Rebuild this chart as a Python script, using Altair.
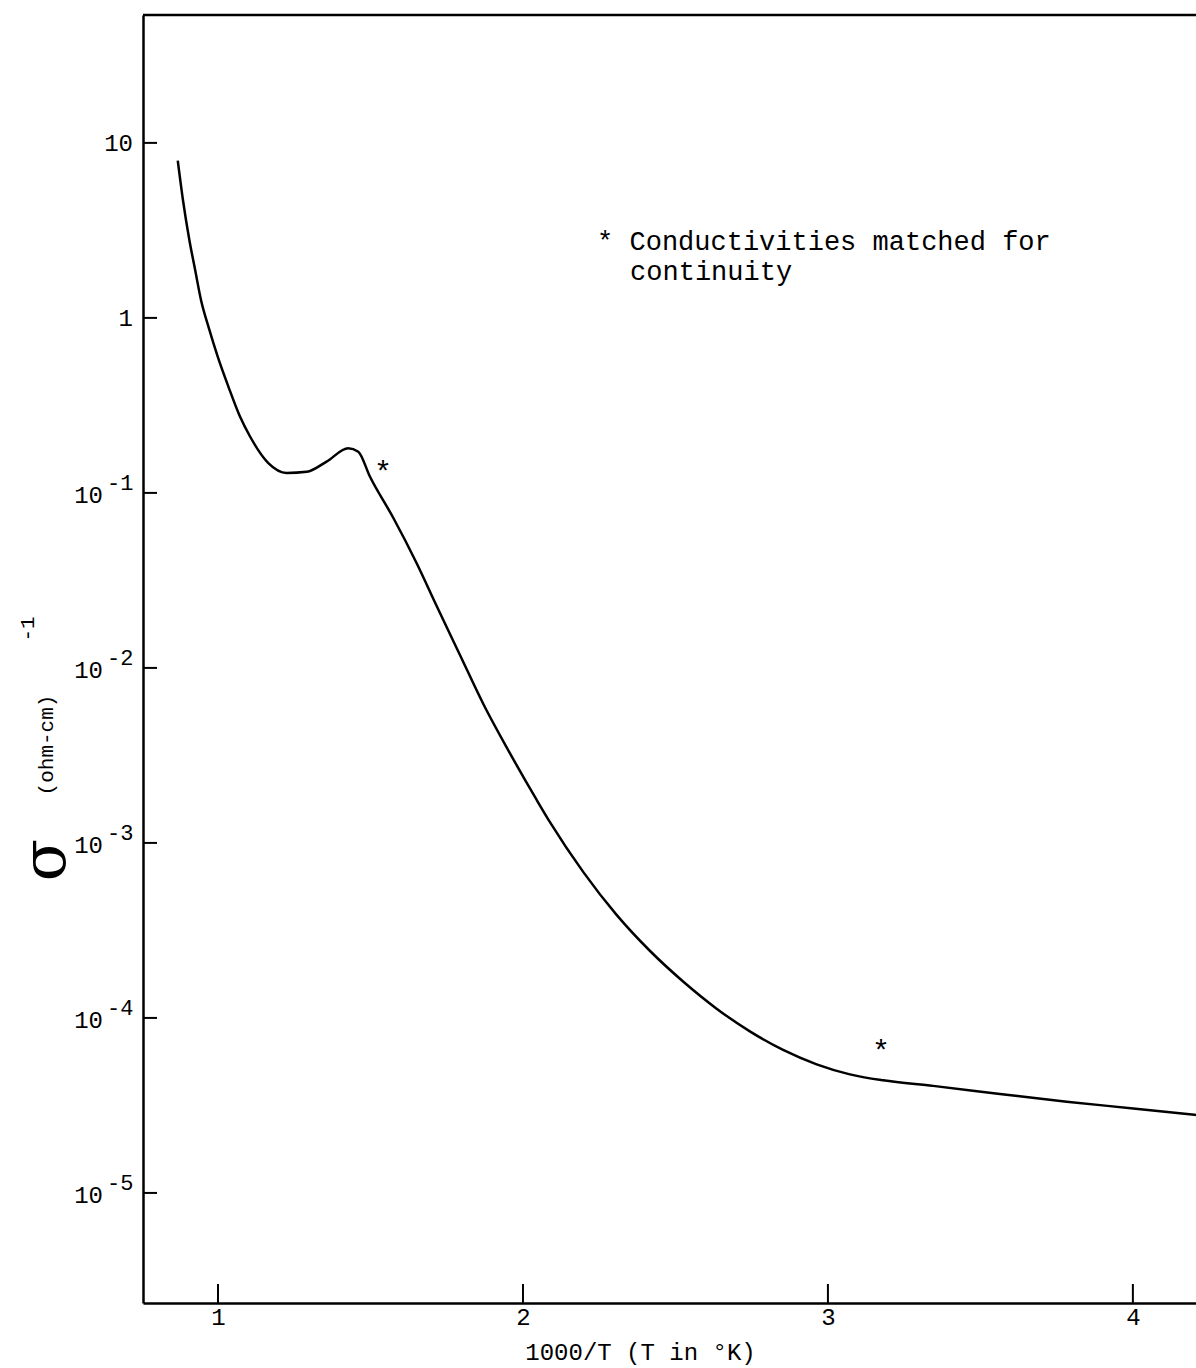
import altair as alt
import pandas as pd

# ---- data ----
inv_T = [0.868, 0.885, 0.906, 0.925, 0.944, 0.970, 0.999, 1.034, 1.072, 1.105,
         1.165, 1.225, 1.291, 1.356, 1.427, 1.460, 1.498, 1.575, 1.651, 1.717,
         1.793, 1.870, 1.957, 2.045, 2.089, 2.198, 2.307, 2.416, 2.526, 2.635,
         2.744, 2.853, 2.963, 3.072, 3.181, 3.345, 3.564, 3.783, 4.001, 4.207]
sigma = [7.92, 4.72, 2.79, 1.88, 1.27, 0.873, 0.601, 0.405, 0.273, 0.210,
         0.148, 0.130, 0.132, 0.151, 0.180, 0.172, 0.124, 0.0719, 0.0398, 0.0226,
         0.0119, 0.00622, 0.00326, 0.00176, 0.00131, 0.000681, 0.000388, 0.000242, 0.000161, 0.000113,
         8.38e-5, 6.56e-5, 5.43e-5, 4.76e-5, 4.40e-5, 4.09e-5, 3.68e-5, 3.32e-5, 3.04e-5, 2.79e-5]

star_x = [1.541, 3.174]
star_y = [0.1426, 7.01e-5]

note_line1 = "* Conductivities matched for"
note_line2 = "continuity"
note_x = 2.243
note_y1 = 2.72
note_y2 = 1.83

x_ticks = [1, 2, 3, 4]
y_ticks = [10, 1, 0.1, 0.01, 0.001, 0.0001, 0.00001]
y_base = ["10", "1", "10", "10", "10", "10", "10"]
y_exp = ["", "", "-1", "-2", "-3", "-4", "-5"]

X_DOMAIN = [0.754, 4.207]
Y_DOMAIN = [2.35e-6, 53.8]
W, H = 1053, 1288
FONT = "Liberation Mono"

curve_df = pd.DataFrame({"x": inv_T, "y": sigma})
star_df = pd.DataFrame({"x": star_x, "y": star_y})
note1_df = pd.DataFrame({"x": [note_x], "y": [note_y1], "t": [note_line1]})
note2_df = pd.DataFrame({"x": [note_x], "y": [note_y2], "t": [note_line2]})
xt_df = pd.DataFrame({"x": x_ticks})
yt_df = pd.DataFrame({"y": y_ticks, "base": y_base, "exp": y_exp})
one_df = pd.DataFrame({"k": [0]})

xs = alt.Scale(domain=X_DOMAIN, nice=False, zero=False)
ys = alt.Scale(type="log", domain=Y_DOMAIN, nice=False)

x_axis = alt.Axis(values=x_ticks, format="d", ticks=False, grid=False,
                  domainColor="black", domainWidth=2.5,
                  labelFont=FONT, labelFontSize=24, labelColor="black", labelPadding=2,
                  title="1000/T (T in °K)", titleFont=FONT, titleFontSize=24,
                  titleFontWeight="normal", titleColor="black",
                  titleX=497, titleY=56, titleBaseline="alphabetic")
y_axis = alt.Axis(labels=False, ticks=False, grid=False, title=None,
                  domainColor="black", domainWidth=2.5)

line = alt.Chart(curve_df).mark_line(color="black", strokeWidth=2.5, interpolate="monotone").encode(
    x=alt.X("x:Q", scale=xs, axis=x_axis),
    y=alt.Y("y:Q", scale=ys, axis=y_axis),
)

stars = alt.Chart(star_df).mark_text(text="*", font=FONT, fontSize=30, color="black",
                                     baseline="middle", dy=7).encode(
    x=alt.X("x:Q", scale=xs), y=alt.Y("y:Q", scale=ys))

note1 = alt.Chart(note1_df).mark_text(font=FONT, fontSize=27, color="black",
                                      align="left", baseline="middle").encode(
    x=alt.X("x:Q", scale=xs), y=alt.Y("y:Q", scale=ys), text="t:N")

note2 = alt.Chart(note2_df).mark_text(font=FONT, fontSize=27, color="black",
                                      align="left", baseline="middle", dx=33).encode(
    x=alt.X("x:Q", scale=xs), y=alt.Y("y:Q", scale=ys), text="t:N")

xtick = alt.Chart(xt_df).mark_rule(color="black", strokeWidth=2).encode(
    x=alt.X("x:Q", scale=xs), y=alt.value(H - 19), y2=alt.value(H))

ytick = alt.Chart(yt_df).mark_rule(color="black", strokeWidth=2).encode(
    y=alt.Y("y:Q", scale=ys), x=alt.value(0), x2=alt.value(14))

ylab_plain = alt.Chart(yt_df).transform_filter("datum.exp == ''").mark_text(
    font=FONT, fontSize=24, color="black", align="right", baseline="middle", dy=1).encode(
    y=alt.Y("y:Q", scale=ys), x=alt.value(-10), text="base:N")

ylab_base = alt.Chart(yt_df).transform_filter("datum.exp != ''").mark_text(
    font=FONT, fontSize=24, color="black", align="right", baseline="middle", dy=3).encode(
    y=alt.Y("y:Q", scale=ys), x=alt.value(-40), text="base:N")

ylab_exp = alt.Chart(yt_df).transform_filter("datum.exp != ''").mark_text(
    font=FONT, fontSize=22, color="black", align="left", baseline="middle", dy=-10).encode(
    y=alt.Y("y:Q", scale=ys), x=alt.value(-36), text="exp:N")

top_border = alt.Chart(one_df).mark_rule(color="black", strokeWidth=2.5).encode(
    x=alt.value(0), x2=alt.value(W), y=alt.value(0))

ytitle_sigma = alt.Chart(one_df).mark_text(
    text="σ", font="DejaVu Serif", fontSize=62, color="black", angle=270,
    align="center", baseline="middle").encode(x=alt.value(-97), y=alt.value(845))

ytitle_unit = alt.Chart(one_df).mark_text(
    text="(ohm-cm)", font=FONT, fontSize=21, color="black", angle=270,
    align="center", baseline="middle").encode(x=alt.value(-96), y=alt.value(730))

ytitle_exp = alt.Chart(one_df).mark_text(
    text="-1", font=FONT, fontSize=21, color="black", angle=270,
    align="center", baseline="middle").encode(x=alt.value(-115), y=alt.value(614))

chart = alt.layer(
    line, stars, note1, note2, xtick, ytick, ylab_plain, ylab_base, ylab_exp,
    top_border, ytitle_sigma, ytitle_unit, ytitle_exp
).properties(
    width=W, height=H,
    padding={"left": 143, "top": 15, "right": 0, "bottom": 65},
    autosize=alt.AutoSizeParams(type="none"),
    background="white",
).configure_view(stroke=None)

chart.save("out.html", embed_options={"renderer": "svg", "actions": False})
